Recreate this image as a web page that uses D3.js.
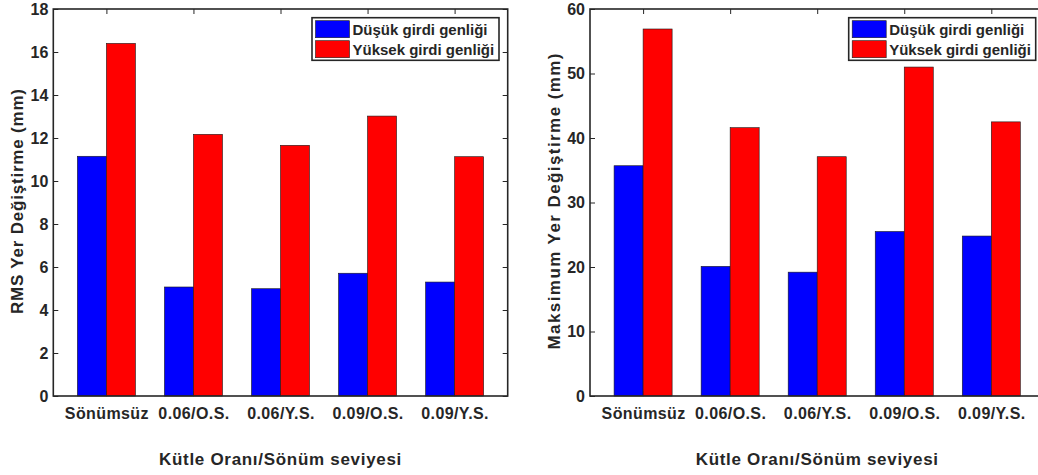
<!DOCTYPE html>
<html>
<head>
<meta charset="utf-8">
<script src="https://cdn.jsdelivr.net/npm/d3@7"></script>
<style>
  body { margin: 0; background: #fff; }
  svg { display: block; font-family: "Liberation Sans", Arial, sans-serif; font-weight: bold; }
</style>
</head>
<body>
<div id="chart"></div>
<script>
// data
const categories = ["Sönümsüz", "0.06/O.S.", "0.06/Y.S.", "0.09/O.S.", "0.09/Y.S."];
const seriesNames = ["Düşük girdi genliği", "Yüksek girdi genliği"];
const seriesColors = ["#0000ff", "#ff0000"];
const rmsLow = [11.15, 5.07, 4.99, 5.71, 5.30];
const rmsHigh = [16.4, 12.17, 11.66, 13.02, 11.13];
const maxLow = [35.7, 20.1, 19.2, 25.5, 24.8];
const maxHigh = [56.9, 41.6, 37.1, 51.0, 42.5];
const rmsTicks = [0, 2, 4, 6, 8, 10, 12, 14, 16, 18];
const maxTicks = [0, 10, 20, 30, 40, 50, 60];

const width = 1038;
const height = 475;
const ink = "#262626";

const svg = d3.select('#chart')
  .append('svg')
  .attr('width', width)
  .attr('height', height)

// one panel of grouped bars
const renderPanel = function(opts) {
  const { left, right, top, bottom, low, high, ticks, yLabel, yLabelLen } = opts;

  const x = d3.scaleLinear()
    .domain([0.39, 5.61])
    .range([left, right]);

  const y = d3.scaleLinear()
    .domain([0, d3.max(ticks)])
    .range([bottom, top]);

  const g = svg.append('g');

  // ticks first so the bars sit on top of them (matlab style)
  g.append('g')
    .attr('transform', `translate(${left},0)`)
    .call(d3.axisLeft(y).tickValues(ticks).tickSize(-5).tickSizeOuter(0).tickPadding(5))
    .call(a => a.select('.domain').remove())
    .selectAll('text').attr('font-size', '16px').attr('fill', ink).attr('font-family', null);

  g.append('g')
    .attr('transform', `translate(${right},0)`)
    .call(d3.axisRight(y).tickValues(ticks).tickSize(-5).tickSizeOuter(0).tickFormat(''))
    .call(a => a.select('.domain').remove());

  g.append('g')
    .attr('transform', `translate(0,${top})`)
    .call(d3.axisTop(x).tickValues(d3.range(1, 6)).tickSize(-5).tickSizeOuter(0).tickFormat(''))
    .call(a => a.select('.domain').remove());

  g.append('g')
    .attr('transform', `translate(0,${bottom})`)
    .call(d3.axisBottom(x).tickValues(d3.range(1, 6)).tickSize(-5).tickSizeOuter(0).tickPadding(12)
      .tickFormat(i => categories[i - 1]))
    .call(a => a.select('.domain').remove())
    .selectAll('text').attr('font-size', '16px').attr('fill', ink).attr('font-family', null)
    .attr('letter-spacing', '0.4px');

  g.selectAll('.tick line').attr('stroke', ink).attr('stroke-width', 1);

  // bars
  const barW = 1 / 3;
  [low, high].forEach((vals, s) => {
    g.append('g')
      .selectAll('rect')
      .data(vals)
      .join('rect')
      .attr('x', (d, i) => x(i + 1 - barW + s * barW))
      .attr('y', d => y(d))
      .attr('width', x(barW) - x(0))
      .attr('height', d => y(0) - y(d))
      .attr('fill', seriesColors[s])
      .attr('stroke', '#1a1a1a')
      .attr('stroke-width', 0.6);
  });

  // box
  g.append('rect')
    .attr('x', left).attr('y', top)
    .attr('width', right - left).attr('height', bottom - top)
    .attr('fill', 'none').attr('stroke', ink).attr('stroke-width', 1.6);

  // axis titles
  g.append('text')
    .attr('transform', `translate(${left - 30},${(top + bottom) / 2 - 1}) rotate(-90)`)
    .attr('text-anchor', 'middle')
    .attr('font-size', '17px')
    .attr('fill', ink)
    .attr('textLength', yLabelLen)
    .attr('lengthAdjust', 'spacing')
    .text(yLabel);

  g.append('text')
    .attr('x', (left + right) / 2)
    .attr('y', 465)
    .attr('text-anchor', 'middle')
    .attr('font-size', '17px')
    .attr('fill', ink)
    .attr('letter-spacing', '0.7px')
    .text('Kütle Oranı/Sönüm seviyesi');

  // legend
  const lw = 187, lh = 42.6;
  const lx = right - 8.7 - lw, ly = top + 8.7;
  const legend = g.append('g').attr('transform', `translate(${lx},${ly})`);
  legend.append('rect')
    .attr('width', lw).attr('height', lh)
    .attr('fill', '#fff').attr('stroke', ink).attr('stroke-width', 1.6);
  seriesNames.forEach((name, s) => {
    legend.append('rect')
      .attr('x', 3.5).attr('y', 3 + s * 20)
      .attr('width', 34).attr('height', 17)
      .attr('fill', seriesColors[s])
      .attr('stroke', '#1a1a1a').attr('stroke-width', 0.6);
    legend.append('text')
      .attr('x', 40.5).attr('y', 17 + s * 20.3)
      .attr('font-size', '15px')
      .attr('fill', ink)
      .text(name);
  });
}

renderPanel({ left: 53.3, right: 507.7, top: 9, bottom: 396, low: rmsLow, high: rmsHigh, ticks: rmsTicks,
  yLabel: 'RMS Yer Değiştirme (mm)', yLabelLen: 225 });
renderPanel({ left: 590, right: 1044.4, top: 9, bottom: 396, low: maxLow, high: maxHigh, ticks: maxTicks,
  yLabel: 'Maksimum Yer Değiştirme (mm)', yLabelLen: 296 });
</script>
</body>
</html>
